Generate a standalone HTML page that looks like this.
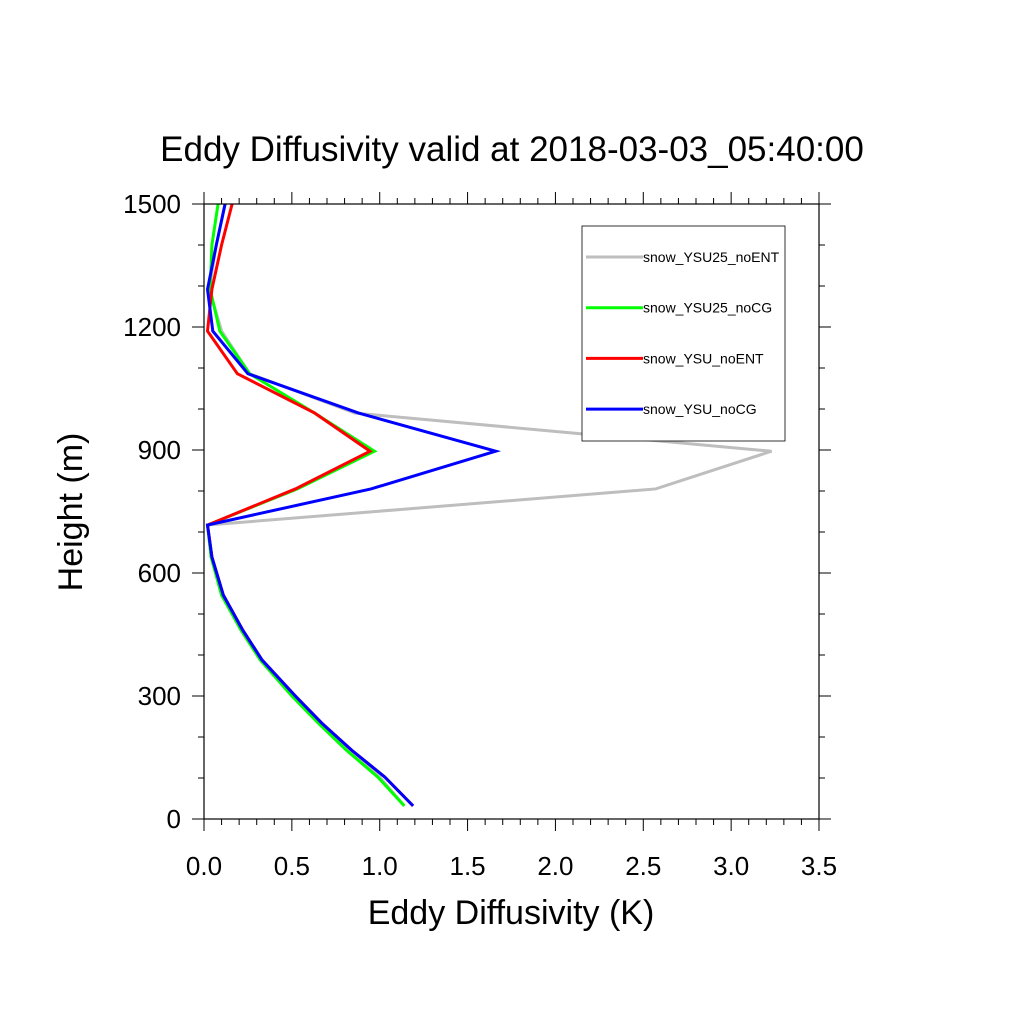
<!DOCTYPE html>
<html><head><meta charset="utf-8"><style>body{margin:0;background:#fff}svg{display:block}text{font-family:"Liberation Sans",sans-serif}</style></head>
<body>
<svg id="chart" width="1024" height="1024"></svg>
<script>
const heights=[32,102,168,234,300,388,461,546,639,717,805,897,990,1086,1190,1292,1400,1500];
const seriesNames=["snow_YSU25_noENT","snow_YSU25_noCG","snow_YSU_noENT","snow_YSU_noCG"];
const seriesColors=["#bebebe","#00ff00","#ff0000","#0000ff"];
const grayVals=[1.14,1.0,0.82,0.66,0.51,0.33,0.22,0.11,0.045,0.02,2.57,3.23,0.86,0.26,0.1,0.03,0.07,0.12];
const greenVals=[1.14,0.99,0.81,0.65,0.5,0.32,0.21,0.1,0.04,0.02,0.53,0.97,0.63,0.26,0.09,0.035,0.045,0.08];
const redVals=[1.19,1.03,0.84,0.67,0.52,0.33,0.22,0.11,0.045,0.02,0.52,0.945,0.63,0.19,0.02,0.045,0.1,0.16];
const blueVals=[1.19,1.03,0.84,0.67,0.52,0.33,0.22,0.11,0.045,0.02,0.95,1.66,0.88,0.25,0.05,0.02,0.07,0.12];
const xTicks=["0.0","0.5","1.0","1.5","2.0","2.5","3.0","3.5"];
const yTicks=["0","300","600","900","1200","1500"];
const NS="http://www.w3.org/2000/svg";
const svg=document.getElementById('chart');
const L=204,R=819,T=204,B=819;
const X=v=>L+(v/3.5)*(R-L);
const Y=v=>B-(v/1500)*(B-T);
function el(t,a,p){const e=document.createElementNS(NS,t);for(const k in a)e.setAttribute(k,a[k]);(p||svg).appendChild(e);return e;}
const t=el('text',{x:512,y:161,'text-anchor':'middle','font-size':35});
t.textContent='Eddy Diffusivity valid at 2018-03-03_05:40:00';


[grayVals,greenVals,redVals,blueVals].forEach((vals,i)=>{
 const p=el('polyline',{points:vals.map((v,j)=>X(v)+','+Y(heights[j])).join(' '),fill:'none',stroke:seriesColors[i],'stroke-width':3,'stroke-linejoin':'miter'});
 
 
});
const f=el('rect',{x:L,y:T,width:R-L,height:B-T,fill:'none',stroke:'#000','stroke-width':1.2});


const g=el('g',{stroke:'#000','stroke-width':1});


for(let i=0;i<=35;i++){const x=X(i/10);const len=i%5==0?12:6;
 el('line',{x1:x,y1:B,x2:x,y2:B+len},g);el('line',{x1:x,y1:T,x2:x,y2:T-len},g);}
for(let i=0;i<=15;i++){const y=Y(i*100);const len=i%3==0?12:6;
 el('line',{x1:L,y1:y,x2:L-len,y2:y},g);el('line',{x1:R,y1:y,x2:R+len,y2:y},g);}
xTicks.forEach(s=>{const e=el('text',{x:X(+s),y:875,'text-anchor':'middle','font-size':26});e.textContent=s;
 
 });
yTicks.forEach(s=>{const e=el('text',{x:181,y:Y(+s)+9,'text-anchor':'end','font-size':26});e.textContent=s;
 
 });
const xt=el('text',{x:511,y:924,'text-anchor':'middle','font-size':34});xt.textContent='Eddy Diffusivity (K)';


const yt=el('text',{x:0,y:0,'text-anchor':'middle','font-size':34,transform:'translate(82,512) rotate(-90)'});yt.textContent='Height (m)';


const lg=el('g',{});


el('rect',{x:582,y:226,width:203,height:215,fill:'#fff',stroke:'#000','stroke-width':0.8},lg);
seriesNames.forEach((n,i)=>{const y=257+i*50.7;
 const e=el('g',{},lg);
 
 
 el('line',{x1:586,y1:y,x2:643,y2:y,stroke:seriesColors[i],'stroke-width':3},e);
 const tx=el('text',{x:643,y:y+5,'font-size':14},e);tx.textContent=n;});
</script>
</body></html>
